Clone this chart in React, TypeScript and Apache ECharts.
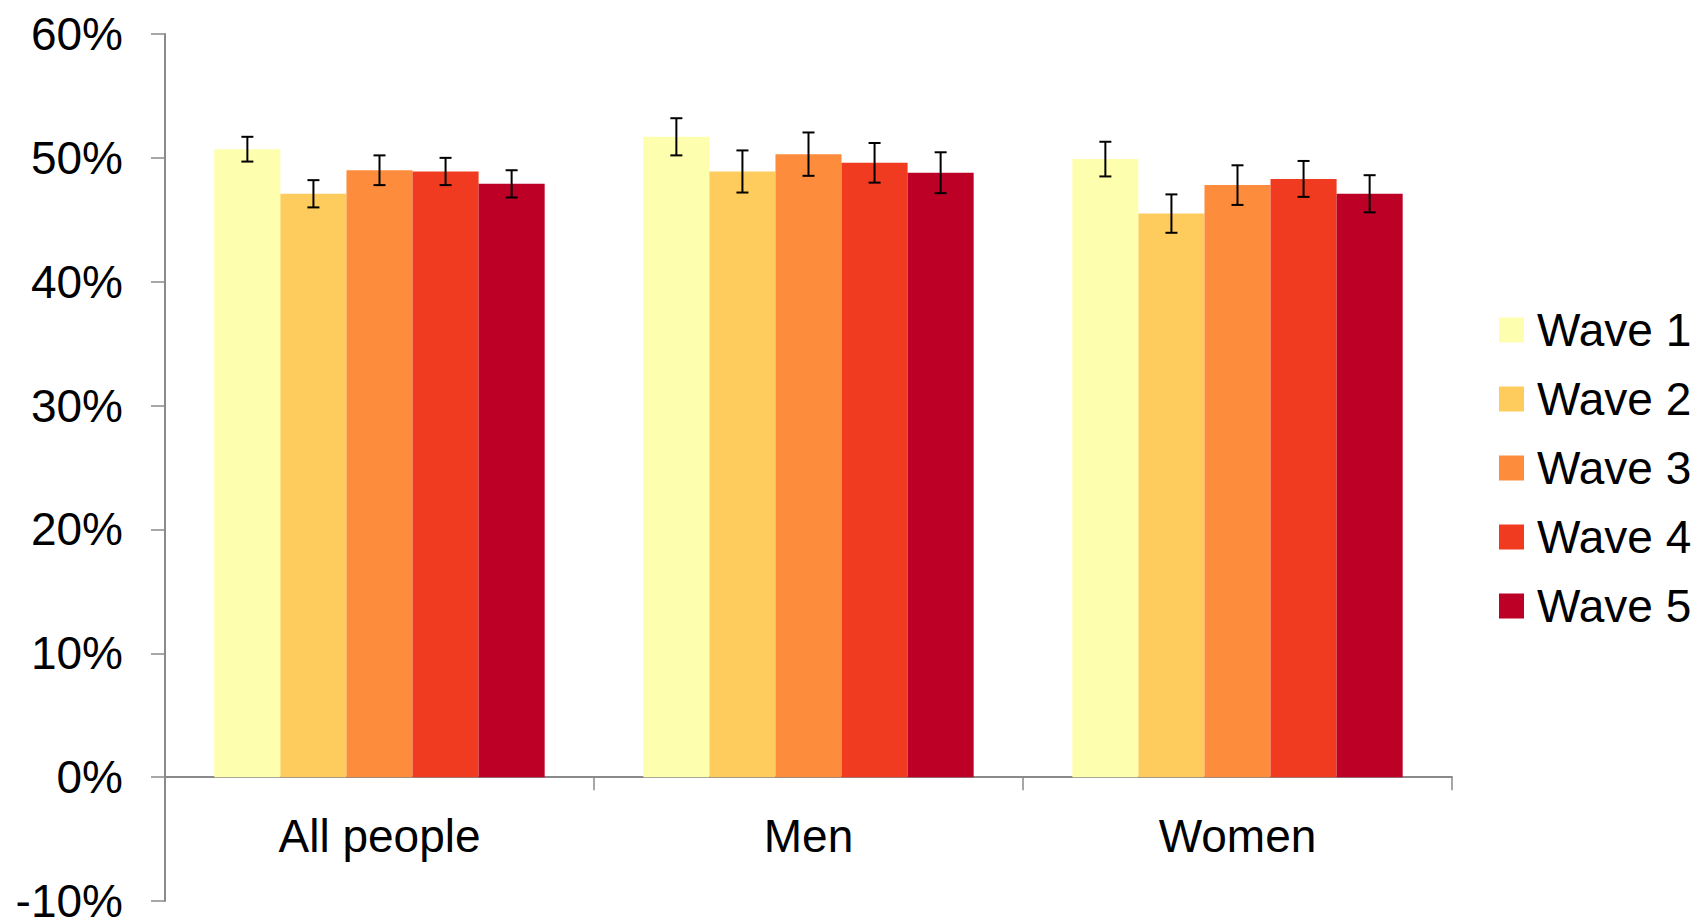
import React, { useEffect, useRef } from "react";
import * as echarts from "echarts";

const categories = ["All people", "Men", "Women"];
const waveNames = ["Wave 1", "Wave 2", "Wave 3", "Wave 4", "Wave 5"];
const wave1 = [50.7, 51.7, 49.9];
const wave2 = [47.1, 48.9, 45.5];
const wave3 = [49.0, 50.3, 47.8];
const wave4 = [48.9, 49.6, 48.3];
const wave5 = [47.9, 48.8, 47.1];
const wave1Err = [1.0, 1.5, 1.4];
const wave2Err = [1.1, 1.7, 1.55];
const wave3Err = [1.2, 1.75, 1.6];
const wave4Err = [1.1, 1.6, 1.45];
const wave5Err = [1.1, 1.65, 1.5];
const waveColors = ["#FEFEAF", "#FECC5C", "#FD8D3C", "#F03B20", "#BD0026"];

const values = [wave1, wave2, wave3, wave4, wave5];
const errors = [wave1Err, wave2Err, wave3Err, wave4Err, wave5Err];
const CAT_GAP = 0.23;
const FONT = "Liberation Sans, Arial, sans-serif";

export default function App() {
  const ref = useRef<HTMLDivElement>(null);
  useEffect(() => {
    document.body.style.margin = "0";
    const chart = echarts.init(ref.current!, null, { renderer: "svg" });
    const barSeries = waveNames.map((name, i) => ({
      name,
      type: "bar",
      data: values[i],
      barGap: "0%",
      barCategoryGap: "23%",
      itemStyle: { color: waveColors[i] },
      z: 2,
    }));
    const errSeries = waveNames.map((name, i) => ({
      name: name + " error",
      type: "custom",
      z: 5,
      data: values[i].map((v, ci) => [ci, v - errors[i][ci], v + errors[i][ci]]),
      encode: { x: 0, y: [1, 2] },
      renderItem: (params: any, api: any) => {
        const ci = api.value(0);
        const low = api.value(1);
        const high = api.value(2);
        const top = api.coord([ci, high]);
        const bot = api.coord([ci, low]);
        const catW = api.size([1, 0])[0];
        const groupW = catW * (1 - CAT_GAP);
        const bw = groupW / 5;
        const x = top[0] - groupW / 2 + bw * (i + 0.5);
        const hw = 6;
        const style = { stroke: "#000", lineWidth: 2 };
        return {
          type: "group",
          children: [
            { type: "line", shape: { x1: x, y1: top[1], x2: x, y2: bot[1] }, style },
            { type: "line", shape: { x1: x - hw, y1: top[1], x2: x + hw, y2: top[1] }, style },
            { type: "line", shape: { x1: x - hw, y1: bot[1], x2: x + hw, y2: bot[1] }, style },
          ],
        };
      },
    }));
    chart.setOption({
      animation: false,
      textStyle: { fontFamily: FONT },
      grid: { left: 165, right: 248, top: 34, bottom: 19, containLabel: false, outerBoundsMode: "none" },
      legend: {
        data: waveNames,
        orient: "vertical",
        left: 1494,
        top: 302,
        itemWidth: 25,
        itemHeight: 25,
        itemGap: 23,
        icon: "rect",
        textStyle: { fontSize: 46, color: "#000", fontFamily: FONT, lineHeight: 46, padding: [0, 0, 0, 8] },
      },
      xAxis: {
        type: "category",
        data: categories,
        axisLine: { onZero: true, lineStyle: { color: "#8a8a8a", width: 2 } },
        axisTick: { show: true, length: 13, alignWithLabel: false, lineStyle: { color: "#8a8a8a", width: 1.5 } },
        axisLabel: { fontSize: 46, color: "#000", fontFamily: FONT, margin: -88 },
      },
      yAxis: {
        type: "value",
        min: -10,
        max: 60,
        interval: 10,
        axisLine: { show: true, lineStyle: { color: "#8a8a8a", width: 2 } },
        axisTick: { show: true, length: 14, lineStyle: { color: "#8a8a8a", width: 1.5 } },
        splitLine: { show: false },
        axisLabel: { formatter: "{value}%", fontSize: 46, color: "#000", fontFamily: FONT, margin: 42 },
      },
      series: [...barSeries, ...errSeries],
    });
    return () => chart.dispose();
  }, []);
  return <div ref={ref} style={{ width: 1700, height: 920 }} />;
}
